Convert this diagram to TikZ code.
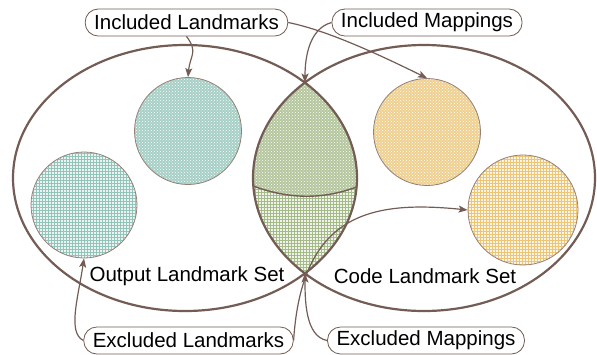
\documentclass[tikz,border=0pt]{standalone}
\usepackage{fontspec}
\setmainfont{Liberation Sans}
\usetikzlibrary{arrows.meta, patterns}
\definecolor{setbrown}{RGB}{115, 92, 84}
\definecolor{rimgray}{RGB}{150, 128, 120}
\definecolor{outteal}{RGB}{146, 196, 186}
\definecolor{codeyellow}{RGB}{236, 198, 118}
\definecolor{mapgreen}{RGB}{164, 186, 136}

\tikzset{
  tag/.style={draw=setbrown, line width=0.8pt, fill=white, rounded corners=13pt, minimum height=27pt, inner xsep=9pt, inner ysep=2pt, font=\fontsize{20.5}{24}\selectfont},
  setname/.style={inner sep=0pt, font=\fontsize{20.5}{24}\selectfont},
  disc/.style={circle, draw=rimgray, line width=0.8pt, minimum size=#1, inner sep=0pt},
  dotfill/.style={preaction={fill=#1!82}, pattern=crosshatch dots, pattern color=white},
  gridfill/.style={preaction={fill=#1!18}, pattern=grid, pattern color=#1},
  setline/.style={draw=setbrown, line width=2.2pt},
  conn/.style={draw=setbrown, line width=1.2pt, -{Stealth[length=9pt, width=7pt, inset=2pt]}}
}

\begin{document}
\begin{tikzpicture}[x=1pt, y=-1pt]
  \useasboundingbox (0,0) rectangle (597,354);

  % Overlap of the two sets
  \begin{scope}
    \clip (185,178) ellipse [x radius=172, y radius=133];
    \clip (424,178) ellipse [x radius=171, y radius=133];
    \fill[gridfill=mapgreen] (220,40) rectangle (400,320);
    \fill[dotfill=mapgreen] (220,40) -- (220,170) .. controls (280,205) and (335,205) .. (390,170) -- (390,40) -- cycle;
    \draw[setbrown, line width=1.4pt] (220,170) .. controls (280,205) and (335,205) .. (390,170);
  \end{scope}
  \coordinate (lens-top) at (305,82.5);
  \coordinate (lens-bot) at (305,273.5);

  % Sets
  \draw[setline] (185,178) ellipse [x radius=172, y radius=133];
  \draw[setline] (424,178) ellipse [x radius=171, y radius=133];
  \node[setname] (out-name) at (187,276) {Output Landmark Set};
  \node[setname] (code-name) at (425,276) {Code Landmark Set};

  % Landmarks
  \node[disc=107pt, dotfill=outteal] (out-in) at (188,131) {};
  \node[disc=106pt, gridfill=outteal] (out-ex) at (84,205) {};
  \node[disc=107pt, dotfill=codeyellow] (code-in) at (427,132) {};
  \node[disc=110pt, gridfill=codeyellow] (code-ex) at (523,210) {};

  % Callouts
  \node[tag] (incl-lm) at (186.5,22.5) {Included Landmarks};
  \node[tag] (incl-map) at (427,22.5) {Included Mappings};
  \node[tag] (excl-lm) at (188.5,340.5) {Excluded Landmarks};
  \node[tag] (excl-map) at (426,340.5) {Excluded Mappings};

  \draw[conn] (incl-lm.south) .. controls +(12,16) and +(2,-22) .. (out-in.north);
  \draw[conn] (incl-lm.east) .. controls +(40,8) and +(-45,-22) .. (code-in.north);
  \draw[conn] (incl-map.west) .. controls +(-22,6) and +(0,-26) .. (lens-top);
  \draw[conn] (excl-lm.west) .. controls +(-16,-8) and +(-6,40) .. (out-ex.south);
  \draw[conn] (excl-lm.east) .. controls +(8,-126) and +(-98,-10) .. (code-ex.west);
  \draw[conn] (excl-map.west) .. controls +(-22,-4) and +(0,26) .. (lens-bot);
\end{tikzpicture}
\end{document}
